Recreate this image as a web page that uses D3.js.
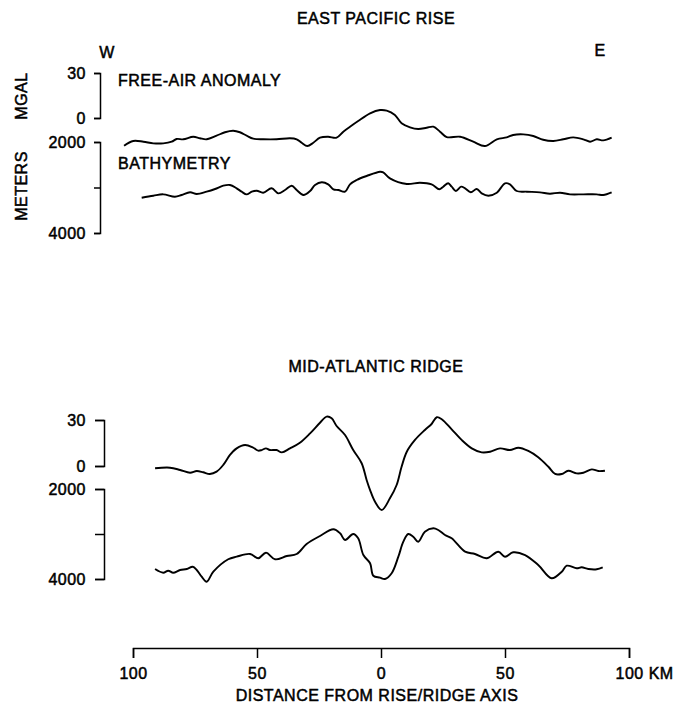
<!DOCTYPE html>
<html>
<head>
<meta charset="utf-8">
<script src="https://cdn.jsdelivr.net/npm/d3@7"></script>
<style>
  body { margin: 0; background: #fff; }
  svg text { font-family: "Liberation Sans", Arial, Helvetica, sans-serif; fill: #000; stroke: #000; stroke-width: 0.5px; letter-spacing: 0.5px; }
</style>
</head>
<body>
<svg id="chart" width="692" height="705"></svg>
<script>
// East Pacific Rise - free-air anomaly (km from axis, mgal)
const eprFaKm = [-103.6, -99.9, -95.8, -91.8, -87.8, -84.4, -82.4, -79.7, -75.7, -73.0, -70.3, -66.3, -62.9, -59.6, -56.9, -54.2, -51.5, -47.5, -42.1, -36.7, -34.0, -32.0, -29.7, -27.3, -24.6, -21.3, -17.9, -15.2, -12.5, -9.2, -4.4, -0.4, 2.3, 5.6, 8.3, 11.7, 15.0, 18.4, 21.1, 23.8, 26.5, 31.9, 37.2, 41.9, 46.7, 50.7, 53.3, 57.4, 61.4, 65.4, 69.5, 73.5, 77.5, 81.6, 84.3, 87.0, 89.6, 93.0];
const eprFa = [-18.5, -15.3, -15.8, -16.9, -16.9, -15.8, -14.0, -14.2, -12.5, -13.5, -14.2, -11.8, -9.5, -8.5, -9.5, -11.8, -13.8, -14.2, -14.2, -13.5, -14.2, -16.5, -18.7, -16.5, -13.1, -12.5, -13.1, -9.1, -5.8, -2.0, 3.1, 5.3, 4.9, 2.0, -3.5, -6.2, -7.3, -6.5, -5.8, -9.1, -12.7, -12.5, -15.8, -18.7, -14.2, -12.9, -11.3, -10.9, -12.0, -14.5, -15.3, -14.2, -12.9, -14.2, -15.8, -14.2, -14.9, -13.1];

// East Pacific Rise - bathymetry (km, meters)
const eprBaKm = [-96.5, -91.8, -87.8, -83.1, -80.4, -77.0, -74.3, -70.3, -66.9, -63.6, -60.9, -58.2, -56.2, -54.2, -52.1, -50.1, -47.5, -44.1, -41.4, -38.7, -36.0, -34.0, -31.3, -28.6, -26.6, -23.9, -21.3, -19.2, -17.2, -14.5, -12.5, -9.8, -5.8, -0.4, 0.9, 3.6, 10.4, 15.7, 20.4, 23.5, 25.1, 27.1, 28.5, 30.2, 32.3, 33.9, 36.2, 38.6, 40.6, 43.3, 46.7, 50.0, 52.0, 54.7, 58.8, 64.1, 68.1, 72.2, 76.2, 81.6, 87.0, 89.6, 93.0];
const eprBa = [3224, 3180, 3150, 3202, 3165, 3106, 3143, 3092, 3033, 2960, 2945, 3018, 3092, 3150, 3092, 3070, 3114, 3018, 3128, 3055, 2960, 3055, 3165, 3077, 2945, 2886, 2930, 3040, 3055, 3092, 2930, 2835, 2747, 2653, 2666, 2798, 2923, 2895, 2930, 3040, 2982, 2908, 2982, 3077, 2982, 3018, 3106, 3033, 3128, 3180, 3114, 2908, 2930, 3077, 3092, 3106, 3136, 3114, 3150, 3150, 3150, 3165, 3106];

// Mid-Atlantic Ridge - free-air anomaly
const marFaKm = [-91.1, -85.1, -81.0, -77.0, -74.3, -71.7, -69.0, -66.3, -63.6, -60.9, -58.2, -54.8, -51.5, -49.5, -48.1, -46.4, -44.8, -42.1, -40.0, -36.7, -32.7, -28.6, -24.6, -21.9, -19.9, -17.9, -14.5, -11.2, -7.8, -5.8, -4.4, -2.4, 0.3, 3.6, 6.3, 8.3, 10.4, 13.7, 17.7, 20.4, 22.5, 24.5, 28.5, 32.5, 36.6, 40.6, 44.0, 48.0, 52.0, 55.4, 59.4, 63.4, 67.5, 70.2, 72.9, 75.5, 78.9, 81.6, 85.0, 87.6, 90.3];
const marFa = [-1.5, -1.1, -2.6, -4.4, -3.3, -4.1, -5.2, -3.7, 0.7, 7.2, 11.5, 13.7, 11.9, 10.0, 10.4, 11.5, 10.4, 10.4, 8.9, 11.5, 15.2, 21.3, 28.2, 32.2, 31.1, 26.1, 20.2, 10.4, 1.8, -9.1, -15.7, -23.3, -28.7, -21.1, -12.4, -0.5, 9.3, 17.0, 23.5, 27.4, 31.8, 30.5, 23.9, 17.0, 11.5, 8.9, 9.3, 11.5, 10.4, 11.9, 9.8, 5.7, -0.5, -5.2, -5.2, -3.1, -4.8, -4.4, -2.2, -3.3, -3.1];

// Mid-Atlantic Ridge - bathymetry
const marBaKm = [-91.1, -87.8, -85.8, -83.8, -81.0, -78.3, -75.9, -74.3, -72.3, -70.3, -67.6, -61.6, -58.2, -52.8, -49.5, -46.4, -42.7, -38.0, -34.0, -30.0, -24.6, -19.2, -16.5, -14.5, -11.2, -9.2, -7.1, -4.4, -3.1, -0.4, 1.6, 4.3, 7.0, 9.0, 11.0, 13.0, 15.0, 17.7, 21.1, 23.1, 25.8, 28.5, 33.9, 37.9, 42.6, 47.3, 50.0, 53.3, 58.1, 63.4, 68.8, 72.9, 74.9, 78.9, 80.9, 83.6, 87.0, 89.4];
const marBa = [3778, 3860, 3815, 3860, 3800, 3778, 3727, 3800, 3949, 4060, 3838, 3562, 3504, 3444, 3540, 3415, 3562, 3489, 3444, 3222, 3044, 2896, 2984, 3133, 3000, 3096, 3467, 3651, 3927, 3971, 4000, 3873, 3504, 3171, 3000, 3060, 3171, 2949, 2873, 2911, 3022, 3096, 3393, 3444, 3540, 3393, 3504, 3407, 3467, 3689, 3984, 3838, 3704, 3762, 3740, 3778, 3784, 3740];

// axis ticks
const kmTicks = [-100, -50, 0, 50, 100];
const mgalTicks = [0, 30];
const meterTicks = [2000, 3000, 4000];

const svg = d3.select('svg#chart');

const x = d3.scaleLinear().domain([-100, 100]).range([133, 629]);

// panel layouts
const panels = [
  { title: 'EAST PACIFIC RISE', titleY: 24, axisX: 100, tick: 6,
    grav: [118, 73], depth: [142, 233],
    fa: [eprFaKm, eprFa], ba: [eprBaKm, eprBa] },
  { title: 'MID-ATLANTIC RIDGE', titleY: 372, axisX: 104, tick: 9,
    grav: [466, 420], depth: [489, 579],
    fa: [marFaKm, marFa], ba: [marBaKm, marBa] }
];

panels.forEach(p => {
  const yG = d3.scaleLinear().domain([0, 30]).range(p.grav);
  const yD = d3.scaleLinear().domain([2000, 4000]).range(p.depth);

  svg.append('text')
    .attr('x', 376).attr('y', p.titleY)
    .attr('text-anchor', 'middle')
    .style('font-size', '16px')
    .text(p.title);

  const pad = p.axisX - p.tick - 86;
  const gAxis = svg.append('g')
    .attr('transform', `translate(${p.axisX},0)`)
    .call(d3.axisLeft(yG).tickValues(mgalTicks).tickSize(p.tick).tickPadding(pad));
  const dAxis = svg.append('g')
    .attr('transform', `translate(${p.axisX},0)`)
    .call(d3.axisLeft(yD).tickValues(meterTicks).tickSize(p.tick).tickPadding(pad)
      .tickFormat(d => d === 3000 ? '' : d));
  [gAxis, dAxis].forEach(a => {
    a.selectAll('path, line').attr('stroke', '#000').attr('stroke-width', 1.5);
    a.selectAll('text').style('font-size', '16px').attr('font-family', null);
  });

  const line = (ys) => d3.line()
    .x((d, i) => x(d[0]))
    .y(d => ys(d[1]))
    .curve(d3.curveCatmullRom.alpha(0.5));

  const faPts = p.fa[0].map((k, i) => [k, p.fa[1][i]]);
  const baPts = p.ba[0].map((k, i) => [k, p.ba[1][i]]);

  svg.append('path').datum(faPts)
    .attr('d', line(yG))
    .attr('fill', 'none').attr('stroke', '#000').attr('stroke-width', 1.9)
    .attr('stroke-linejoin', 'round');
  svg.append('path').datum(baPts)
    .attr('d', line(yD))
    .attr('fill', 'none').attr('stroke', '#000').attr('stroke-width', 1.9)
    .attr('stroke-linejoin', 'round');
});

// labels of the upper panel
const labels = [
  { t: 'W', x: 107, y: 58, a: 'middle' },
  { t: 'E', x: 600, y: 56, a: 'middle' },
  { t: 'FREE-AIR ANOMALY', x: 118, y: 86, a: 'start' },
  { t: 'BATHYMETRY', x: 118, y: 169, a: 'start' }
];
labels.forEach(l => {
  svg.append('text').attr('x', l.x).attr('y', l.y)
    .attr('text-anchor', l.a).style('font-size', '16px').text(l.t);
});

// rotated unit labels
[['MGAL', 96], ['METERS', 186]].forEach(([t, cy]) => {
  svg.append('text')
    .attr('transform', `translate(27,${cy}) rotate(-90)`)
    .attr('text-anchor', 'middle')
    .style('font-size', '16px')
    .text(t);
});

// distance axis
const xAxis = svg.append('g')
  .attr('transform', 'translate(0,648)')
  .call(d3.axisBottom(x).tickValues(kmTicks).tickSize(10).tickSizeOuter(10).tickPadding(10)
    .tickFormat(d => Math.abs(d)));
xAxis.selectAll('path, line').attr('stroke', '#000').attr('stroke-width', 1.5);
xAxis.selectAll('text').style('font-size', '16px').attr('font-family', null);
xAxis.selectAll('.tick').filter(d => d === 100).select('text')
  .attr('text-anchor', 'start').attr('x', -14)
  .text('100 KM');

svg.append('text')
  .attr('x', 377).attr('y', 701)
  .attr('text-anchor', 'middle')
  .style('font-size', '16px')
  .text('DISTANCE FROM RISE/RIDGE AXIS');
</script>
</body>
</html>
